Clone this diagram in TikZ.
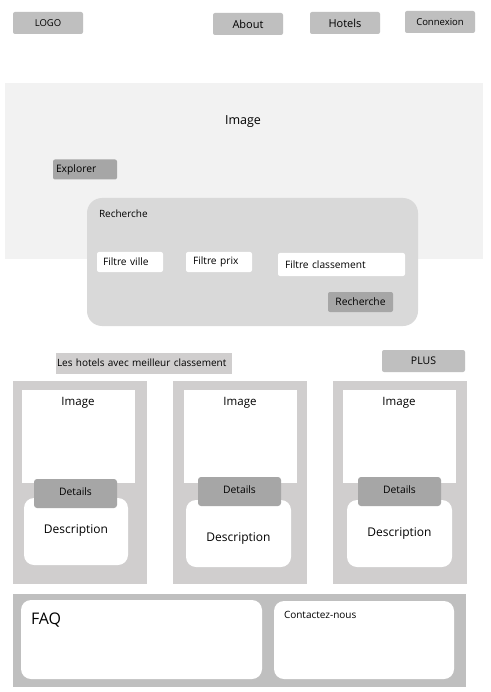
\documentclass[tikz,border=0pt]{standalone}
\usepackage{fontspec}
\setmainfont{Open Sans}
\usetikzlibrary{positioning}

\definecolor{navgray}{HTML}{BFBFBF}
\definecolor{darkgray}{HTML}{A6A6A6}
\definecolor{panelgray}{HTML}{D9D9D9}
\definecolor{herogray}{HTML}{F2F2F2}
\definecolor{cardgray}{HTML}{D0CECE}

\tikzset{
    box/.style={inner sep=0pt, outer sep=0pt},
    navbtn/.style={box, fill=navgray, rounded corners=2pt, minimum width=70, minimum height=22, font=\fontsize{9.5}{11}\selectfont},
    darkbtn/.style={box, fill=darkgray, rounded corners=2pt, font=\fontsize{10.3}{12}\selectfont},
    field/.style={box, fill=white, rounded corners=2pt, minimum height=20, font=\fontsize{10.2}{12}\selectfont, anchor=west, text width=#1, align=left},
    txt/.style={box, font=\fontsize{#1}{#1}\selectfont},
}

\begin{document}
\begin{tikzpicture}[x=1pt,y=-1pt]

    \useasboundingbox[fill=white] (0,0) rectangle (490,692);

    % barre de navigation
    \node[navbtn] (logo) at (48,23) {LOGO};
    \node[navbtn, font=\fontsize{11}{12}\selectfont] (about) at (248,24) {\raisebox{-1pt}{About}};
    \node[navbtn, font=\fontsize{11}{12}\selectfont] (hotels) at (345,23) {Hotels};
    \node[navbtn] (connexion) at (440,22) {Connexion};

    % bandeau image
    \fill[herogray] (5,83) rectangle (483,259);
    \node[txt=12.5] (heroimg) at (243,122) {Image};
    \node[darkbtn, minimum width=64, minimum height=20, text width=58, align=left] (explorer) at (85,169.5) {\raisebox{-1pt}{Explorer}};

    % bloc de recherche
    \fill[panelgray, rounded corners=15pt] (87,198) rectangle (418,326);
    \node[txt=10, anchor=west] (recherchelbl) at (99,214) {Recherche};
    \node[field=66] (ville) at (97,262) {\hspace{6pt}Filtre ville};
    \node[field=66] (prix) at (186,262) {\hspace{7pt}Filtre prix};
    \node[field=127, minimum height=23] (classement) at (278,264.5) {\hspace{7pt}Filtre classement};
    \node[darkbtn, minimum width=65, minimum height=20] (recherche) at (360.5,302) {Recherche};

    % meilleurs hotels
    \node[box, fill=cardgray, minimum width=176, minimum height=21, text width=174, align=left, font=\fontsize{10}{11}\selectfont] (titre) at (144,363.5) {\raisebox{2pt}{Les hotels avec meilleur classement}};
    \node[navbtn, minimum width=83, font=\fontsize{10.5}{12}\selectfont] (plus) at (423.5,361) {PLUS};

    % cartes : gauche / image / details / description / texte
    \foreach \n/\l/\il/\dc/\dy/\dl/\dr/\ty in {1/13/22/75.5/0/24/128/531, 2/173/184/239.5/-2/186/291/539, 3/333/343/399.5/-2/347/452/534} {
        \fill[cardgray] (\l,381) rectangle (\l+134,584);
        \fill[white] (\il,390) rectangle (\il+113,483);
        \node[txt=11.5] (img\n) at (\il+56,403) {Image};
        \fill[white, rounded corners=10pt] (\dl,498-\dy) rectangle (\dr,565-\dy);
        \node[txt=12] (desc\n) at ({(\dl+\dr)/2},\ty) {Description};
        \node[darkbtn, rounded corners=3pt, minimum width=83, minimum height=29] (details\n) at (\dc,493.5+\dy) {\raisebox{3pt}{Details}};
    }

    % pied de page
    \fill[navgray] (13,594) rectangle (466,687);
    \fill[white, rounded corners=10pt] (21,600) rectangle (262,679);
    \node[txt=16, anchor=west] (faq) at (31,620) {FAQ};
    \fill[white, rounded corners=10pt] (274,601) rectangle (454,679);
    \node[txt=10, anchor=west] (contact) at (284,615) {Contactez-nous};

\end{tikzpicture}
\end{document}
